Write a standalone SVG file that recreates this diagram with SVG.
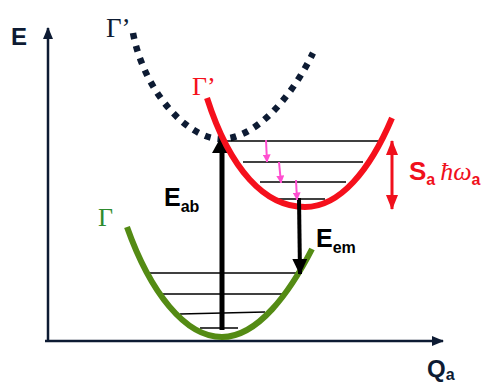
<svg xmlns="http://www.w3.org/2000/svg" width="485" height="383" viewBox="0 0 485 383">
<style>
.axis{stroke:#0d1b33;stroke-width:2.5;fill:none}
.lvl{stroke:#000;stroke-width:1.3;fill:none}
.sans{font-family:"Liberation Sans",Arial,sans-serif;font-weight:bold}
.serif{font-family:"Liberation Serif","Times New Roman",serif}
</style>
<defs>
<marker id="axhead" viewBox="0 0 12 10" refX="11" refY="5" markerWidth="12" markerHeight="10" markerUnits="userSpaceOnUse" orient="auto"><path d="M0,0 L12,5 L0,10 z" fill="#0d1b33"/></marker>
<marker id="bighead" viewBox="0 0 18 20" refX="17" refY="10" markerWidth="18" markerHeight="20" markerUnits="userSpaceOnUse" orient="auto"><path d="M0,0 L18,10 L0,20 z" fill="#000"/></marker>
<marker id="emhead" viewBox="0 0 16 15" refX="15" refY="7.5" markerWidth="16" markerHeight="15" markerUnits="userSpaceOnUse" orient="auto"><path d="M0,0 L16,7.5 L0,15 z" fill="#000"/></marker>
<marker id="redhead" viewBox="0 0 15 12" refX="14" refY="6" markerWidth="15" markerHeight="12" markerUnits="userSpaceOnUse" orient="auto-start-reverse"><path d="M0,0 L15,6 L0,12 z" fill="#f0101c"/></marker>
<marker id="pinkhead" viewBox="0 0 8 8" refX="7.5" refY="4" markerWidth="8" markerHeight="8" markerUnits="userSpaceOnUse" orient="auto"><path d="M0,0 L8,4 L0,8 z" fill="#ff4fd0"/></marker>
</defs>
<g id="axes">
<line class="axis" x1="48" y1="342" x2="48" y2="28" marker-end="url(#axhead)"/>
<line class="axis" x1="45" y1="341" x2="443" y2="341" marker-end="url(#axhead)"/>
<text class="sans" x="11" y="45" font-size="24" fill="#0d1b33">E</text>
<text class="sans" x="427" y="377" font-size="24" fill="#0d1b33">Q<tspan font-size="16" dy="3">a</tspan></text>
</g>
<g id="excited-dotted">
<path d="M133,33 C145,95 190,140 222,139 C255,138 290,100 313,53" fill="none" stroke="#0d1b33" stroke-width="6.5" stroke-dasharray="6 7"/>
<text class="serif" x="106" y="37" font-size="27" fill="#0d1b33">Γ’</text>
</g>
<g id="levels">
<line class="lvl" x1="222" y1="141" x2="379" y2="141"/>
<line class="lvl" x1="243" y1="162" x2="363" y2="162"/>
<line class="lvl" x1="260" y1="182" x2="346" y2="182"/>
<line class="lvl" x1="278" y1="199" x2="325" y2="199"/>
<line class="lvl" x1="150" y1="273" x2="297" y2="273"/>
<line class="lvl" x1="163" y1="294" x2="283" y2="294"/>
<line class="lvl" x1="180" y1="314" x2="265" y2="312"/>
<line class="lvl" x1="200" y1="328" x2="238" y2="328"/>
</g>
<g id="ground">
<path d="M127,227 C150,292 185,337 222,337 C258,337 290,292 312,249" fill="none" stroke="#548b14" stroke-width="6"/>
<text class="serif" x="98" y="226" font-size="26" fill="#2e8b2e">Γ</text>
</g>
<g id="connectors">
<line x1="222" y1="330" x2="222" y2="136" stroke="#000" stroke-width="5" marker-end="url(#bighead)"/>
</g>
<g id="excited">
<path d="M207,98 C230,170 265,207 305,207 C340,207 370,170 392,118" fill="none" stroke="#f5101c" stroke-width="6"/>
<text class="serif" x="192" y="95" font-size="26" fill="#f5101c">Γ’</text>
</g>
<g id="connectors2">
<line x1="299" y1="198" x2="300" y2="274" stroke="#000" stroke-width="4" marker-end="url(#emhead)"/>
<line x1="266" y1="140" x2="267" y2="162" stroke="#ff4fd0" stroke-width="2" marker-end="url(#pinkhead)"/>
<line x1="279" y1="162" x2="281" y2="183" stroke="#ff4fd0" stroke-width="2" marker-end="url(#pinkhead)"/>
<line x1="296" y1="180" x2="297" y2="200" stroke="#ff4fd0" stroke-width="2" marker-end="url(#pinkhead)"/>
<line x1="392" y1="141" x2="392" y2="209" stroke="#f0101c" stroke-width="3" marker-start="url(#redhead)" marker-end="url(#redhead)"/>
</g>
<g id="labels">
<text class="sans" x="164" y="206" font-size="25" fill="#000">E<tspan font-size="16" dy="6">ab</tspan></text>
<text class="sans" x="316" y="247" font-size="25" fill="#000">E<tspan font-size="16" dy="6">em</tspan></text>
<text x="409" y="180" font-size="26" fill="#f0101c"><tspan class="sans">S</tspan><tspan class="sans" font-size="16" dy="5">a</tspan><tspan class="serif" font-style="italic" dy="-5" dx="5">ħω</tspan><tspan class="sans" font-size="16" dy="5">a</tspan></text>
</g>
</svg>
